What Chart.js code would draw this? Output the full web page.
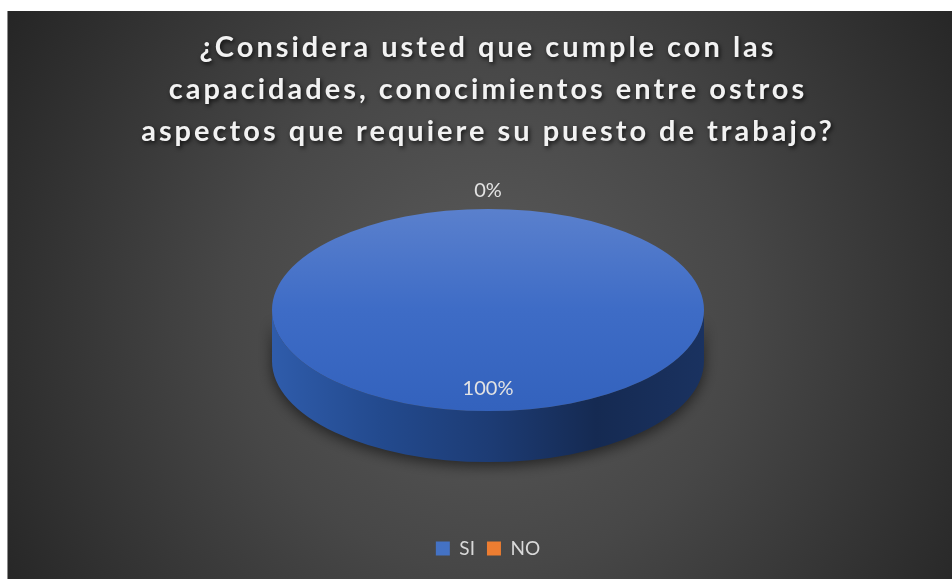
<!DOCTYPE html>
<html>
<head>
<meta charset="utf-8">
<script src="https://cdn.jsdelivr.net/npm/chart.js@4.4.1/dist/chart.umd.min.js"></script>
<style>
  html, body { margin: 0; padding: 0; background: #fff; overflow: hidden; width: 952px; height: 579px; }
  #marco { position: absolute; left: 7px; top: 11px; width: 960px; height: 570px; border-left: 1px solid #8c8c8c; }
  canvas { display: block; }
</style>
</head>
<body>
<div id="marco"><canvas id="graficoPuesto"></canvas></div>
<script>
var categorias = ['SI', 'NO'];
var valores = [100, 0];
var etiquetasPct = ['100%', '0%'];
var tituloLineas = [
    '¿Considera usted que cumple con las',
    'capacidades, conocimientos entre ostros',
    'aspectos que requiere su puesto de trabajo?'
];
var colores = ['#4472C4', '#ED7D31'];

// tapa superior (arriba claro, abajo mas oscuro) y lateral del cilindro
var tapaColores = [['#5a80cd', '#3e6cc6', '#3362bd'], ['#f39a5a', '#ed7d31', '#d96a20']];
var ladoColores = ['#2f5cab', '#234a8e', '#1d3c75', '#152a52', '#1a3260'];

var RADIO = 216;
var ACHATADO = 0.468;
var GROSOR = 51;

function centroPie(chart) {
    var a = chart.chartArea;
    return { x: (a.left + a.right) / 2, y: (a.top + a.bottom) / 2 };
}

// fondo oscuro con degradado radial
var fondoPlugin = {
    id: 'fondo',
    beforeDraw: function (chart) {
        var ctx = chart.ctx;
        var w = chart.width, h = chart.height;
        var g = ctx.createRadialGradient(480, 300, 10, 480, 300, 560);
        g.addColorStop(0, '#5a5a5a');
        g.addColorStop(0.45, '#474747');
        g.addColorStop(1, '#262626');
        ctx.save();
        ctx.fillStyle = g;
        ctx.fillRect(0, 0, w, h);
        ctx.restore();

        // titulo con espaciado y sombra
        var tb = chart.titleBlock;
        if (tb && !tb._envuelto) {
            var dibujar = tb.draw.bind(tb);
            tb.draw = function () {
                var c = tb.ctx;
                c.save();
                c.letterSpacing = '3px';
                c.shadowColor = 'rgba(0,0,0,0.75)';
                c.shadowBlur = 4;
                c.shadowOffsetX = 1.5;
                c.shadowOffsetY = 2;
                dibujar();
                c.restore();
            };
            tb._envuelto = true;
        }
    }
};

// pastel 3D: lateral del cilindro + tapa achatada
var pastel3D = {
    id: 'pastel3D',
    beforeDatasetsDraw: function (chart) {
        var ctx = chart.ctx;
        var c = centroPie(chart);
        var r = RADIO, ry = RADIO * ACHATADO;

        ctx.save();
        var g = ctx.createLinearGradient(c.x - r, 0, c.x + r, 0);
        ladoColores.forEach(function (col, i) {
            g.addColorStop(i / (ladoColores.length - 1), col);
        });
        ctx.beginPath();
        ctx.moveTo(c.x - r, c.y);
        ctx.lineTo(c.x - r, c.y + GROSOR);
        ctx.ellipse(c.x, c.y + GROSOR, r, ry, 0, Math.PI, 0, true);
        ctx.lineTo(c.x + r, c.y);
        ctx.ellipse(c.x, c.y, r, ry, 0, 0, Math.PI, false);
        ctx.closePath();
        ctx.shadowColor = 'rgba(0,0,0,0.55)';
        ctx.shadowBlur = 14;
        ctx.shadowOffsetY = 4;
        ctx.fillStyle = g;
        ctx.fill();
        ctx.restore();

        ctx.save();
        ctx.translate(c.x, c.y);
        ctx.scale(1, ACHATADO);
        ctx.translate(-c.x, -c.y);
    },
    afterDatasetsDraw: function (chart) {
        var ctx = chart.ctx;
        ctx.restore();

        // porcentajes sobre cada porcion
        var c = centroPie(chart);
        var meta = chart.getDatasetMeta(0);
        ctx.save();
        ctx.font = '20px Lato';
        ctx.fillStyle = '#e3e3e3';
        ctx.textAlign = 'center';
        ctx.textBaseline = 'middle';
        meta.data.forEach(function (arc, i) {
            var medio = (arc.startAngle + arc.endAngle) / 2;
            var f = valores[i] === 0 ? 1.18 : 0.78;
            var x = c.x + Math.cos(medio) * RADIO * f;
            var y = c.y + Math.sin(medio) * RADIO * ACHATADO * f;
            ctx.fillText(etiquetasPct[i], x, y);
        });
        ctx.restore();
    }
};

var ctx = document.getElementById('graficoPuesto').getContext('2d');
var grafico = new Chart(ctx, {
    type: 'pie',
    data: {
        labels: categorias,
        datasets: [{
            data: valores,
            radius: RADIO,
            borderWidth: 0,
            backgroundColor: function (context) {
                var chart = context.chart;
                if (!chart.chartArea) return colores[context.dataIndex];
                var c = centroPie(chart);
                var tonos = tapaColores[context.dataIndex];
                var g = chart.ctx.createLinearGradient(0, c.y - RADIO, 0, c.y + RADIO);
                g.addColorStop(0, tonos[0]);
                g.addColorStop(0.5, tonos[1]);
                g.addColorStop(1, tonos[2]);
                return g;
            }
        }]
    },
    options: {
        responsive: true,
        maintainAspectRatio: false,
        animation: false,
        events: [],
        layout: { padding: { top: 0, bottom: 13 } },
        plugins: {
            title: {
                display: true,
                text: tituloLineas,
                color: '#f2f2f2',
                font: { family: 'Lato', size: 29, weight: 'bold', lineHeight: 1.448 },
                padding: { top: 16, bottom: 0 }
            },
            legend: {
                position: 'bottom',
                // titulo vacio que separa la leyenda del pastel
                title: {
                    display: true,
                    text: ' ',
                    font: { size: 10, lineHeight: 1.2 },
                    padding: { top: 48, bottom: 0 }
                },
                labels: {
                    color: '#d9d9d9',
                    font: { family: 'Lato', size: 19 },
                    boxWidth: 14,
                    boxHeight: 14,
                    padding: 12,
                    generateLabels: function (chart) {
                        return categorias.map(function (cat, i) {
                            return {
                                text: cat,
                                fillStyle: colores[i],
                                strokeStyle: colores[i],
                                lineWidth: 0,
                                fontColor: '#d9d9d9',
                                hidden: false,
                                index: i
                            };
                        });
                    }
                }
            },
            tooltip: { enabled: false }
        }
    },
    plugins: [fondoPlugin, pastel3D]
});
</script>
</body>
</html>
